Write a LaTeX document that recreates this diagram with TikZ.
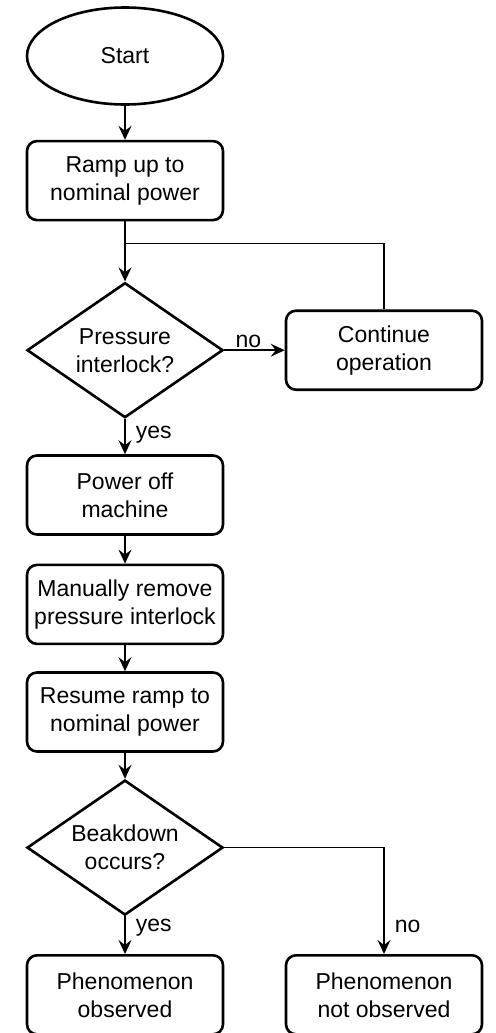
\documentclass[tikz,border=0pt]{standalone}
\usepackage{fontspec}
\setmainfont{Liberation Sans}
\usetikzlibrary{shapes.geometric,positioning,calc,arrows.meta}

\begin{document}
\begin{tikzpicture}[->, >={Stealth[length=7pt,width=6.5pt,inset=2.5pt]}, line width=0.8pt,
  font=\fontsize{11.5pt}{14pt}\selectfont,
  base/.style={draw, line width=1.3pt, align=center, minimum width=98pt, inner xsep=2pt},
  term/.style={base, ellipse, minimum height=48.5pt},
  proc/.style={base, rounded corners=5pt, minimum height=39.5pt},
  ask/.style={base, diamond, aspect=1.45, inner sep=0pt, minimum height=67.5pt},
  lbl/.style={inner sep=1pt}]
  \useasboundingbox (0,0) rectangle (247.5pt,-516.5pt);
  \node[term] (Start) at (62.5pt,-28pt) {Start};
  \node[proc] (Ramp) [below=17pt of Start] {Ramp up to\\nominal power};
  \node[ask] (Q1) [below=30pt of Ramp] {Pressure\\interlock?};
  \node[proc] (Cont) [right=30.2pt of Q1] {Continue\\operation};
  \node[proc] (Off) [below=17.6pt of Q1] {Power off\\machine};
  \node[proc] (Manual) [below=13.9pt of Off] {Manually remove\\pressure interlock};
  \node[proc] (Resume) [below=13pt of Manual] {Resume ramp to\\nominal power};
  \node[ask] (Q2) [below=13pt of Resume] {Beakdown\\occurs?};
  \node[proc] (Obs) [below=18.8pt of Q2] {Phenomenon\\observed};
  \node[proc] (NotObs) [right=30.2pt of Obs] {Phenomenon\\not observed};
  \coordinate (Join) at ($(Ramp.south)!0.37!(Q1.north)$);

  \path (Start) edge (Ramp)
        (Ramp) edge (Q1)
        (Q1) edge node[lbl, above, pos=0.4] {no} (Cont)
             edge node[lbl, right=4pt, pos=0.45] {yes} (Off)
        (Off) edge (Manual)
        (Manual) edge (Resume)
        (Resume) edge (Q2)
        (Q2) edge node[lbl, right=4pt, pos=0.3] {yes} (Obs);
  \draw (Q2.east) -| node[lbl, right=4pt, pos=0.87] {no} (NotObs.north);
  \draw[-] (Cont.north) |- (Join);
\end{tikzpicture}
\end{document}
